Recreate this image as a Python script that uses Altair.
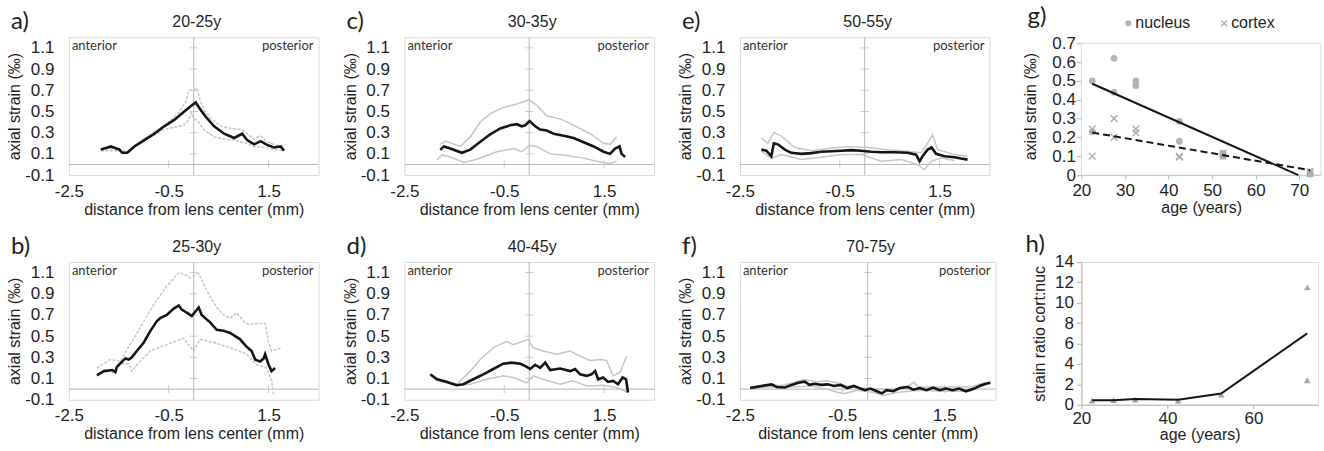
import altair as alt
import pandas as pd

FONT = "Liberation Sans"
LFONT = "Lato"
TXT = "#1e1e1e"
FRAME = "#d9d9d9"
AXG = "#b5b5b5"
GREY = "#c6c6c6"

# ---------------- profile data: (distance mm, axial strain permille) ----------------
A_MEAN = [(-1.86, 0.14), (-1.66, 0.17), (-1.49, 0.14), (-1.43, 0.11), (-1.33, 0.11), (-1.19, 0.17),
          (-0.99, 0.23), (-0.79, 0.29), (-0.59, 0.36), (-0.39, 0.42), (-0.19, 0.50), (-0.06, 0.55),
          (0.04, 0.585), (0.14, 0.515), (0.24, 0.45), (0.41, 0.36), (0.61, 0.29), (0.81, 0.25),
          (0.97, 0.29), (1.07, 0.23), (1.21, 0.19), (1.34, 0.22), (1.47, 0.185), (1.61, 0.16),
          (1.74, 0.17), (1.81, 0.13)]
A_UP = [(-1.86, 0.15), (-1.5, 0.15), (-1.33, 0.12), (-1.0, 0.24), (-0.7, 0.33), (-0.5, 0.40),
        (-0.3, 0.49), (-0.15, 0.60), (-0.1, 0.70), (0.0, 0.70), (0.06, 0.72), (0.12, 0.62),
        (0.2, 0.52), (0.35, 0.43), (0.55, 0.36), (0.75, 0.34), (0.95, 0.33), (1.05, 0.30),
        (1.2, 0.24), (1.34, 0.27), (1.45, 0.22), (1.6, 0.19), (1.75, 0.17), (1.8, 0.15)]
A_LOW = [(-1.86, 0.13), (-1.5, 0.13), (-1.33, 0.11), (-1.0, 0.22), (-0.7, 0.30), (-0.6, 0.33),
         (-0.3, 0.36), (-0.2, 0.37), (-0.1, 0.42), (-0.05, 0.49), (0.0, 0.44), (0.1, 0.40),
         (0.2, 0.33), (0.4, 0.26), (0.6, 0.24), (0.8, 0.23), (1.05, 0.20), (1.2, 0.17),
         (1.45, 0.16), (1.6, 0.14), (1.8, 0.13)]

B_MEAN = [(-1.94, 0.13), (-1.80, 0.17), (-1.63, 0.18), (-1.57, 0.16), (-1.54, 0.21), (-1.37, 0.29),
          (-1.30, 0.28), (-1.24, 0.30), (-1.14, 0.36), (-1.00, 0.44), (-0.87, 0.547), (-0.74, 0.64),
          (-0.67, 0.67), (-0.54, 0.70), (-0.40, 0.76), (-0.30, 0.79), (-0.24, 0.75), (-0.17, 0.73),
          (-0.10, 0.71), (-0.04, 0.69), (0.03, 0.73), (0.10, 0.77), (0.16, 0.70), (0.23, 0.67),
          (0.33, 0.63), (0.46, 0.56), (0.60, 0.55), (0.73, 0.53), (0.83, 0.50), (0.93, 0.47),
          (1.06, 0.40), (1.16, 0.36), (1.23, 0.28), (1.33, 0.26), (1.40, 0.29), (1.43, 0.33),
          (1.50, 0.23), (1.56, 0.17), (1.63, 0.20)]
B_UP = [(-1.94, 0.20), (-1.67, 0.28), (-1.47, 0.26), (-1.34, 0.37), (-1.07, 0.58), (-0.80, 0.80),
        (-0.54, 0.97), (-0.30, 1.10), (-0.17, 1.08), (-0.07, 1.05), (0.10, 1.09), (0.26, 0.93),
        (0.46, 0.77), (0.60, 0.70), (0.73, 0.67), (0.86, 0.72), (1.00, 0.64), (1.10, 0.61),
        (1.23, 0.62), (1.43, 0.62), (1.50, 0.44), (1.56, 0.36), (1.76, 0.39)]
B_LOW = [(-1.64, 0.15), (-1.45, 0.24), (-1.3, 0.24), (-1.24, 0.17), (-1.1, 0.25), (-0.87, 0.36),
         (-0.54, 0.42), (-0.2, 0.48), (-0.14, 0.44), (0.0, 0.36), (0.13, 0.47), (0.4, 0.44),
         (0.8, 0.38), (1.06, 0.33), (1.26, 0.23), (1.46, 0.20), (1.56, 0.08), (1.6, -0.05)]

C_MEAN = [(-1.78, 0.137), (-1.71, 0.17), (-1.58, 0.15), (-1.35, 0.11), (-1.18, 0.14), (-0.98, 0.215),
          (-0.78, 0.285), (-0.58, 0.34), (-0.38, 0.37), (-0.25, 0.38), (-0.15, 0.36), (-0.08, 0.37),
          (0.01, 0.41), (0.12, 0.36), (0.22, 0.33), (0.35, 0.32), (0.49, 0.29), (0.69, 0.27),
          (0.89, 0.25), (1.09, 0.21), (1.29, 0.17), (1.49, 0.12), (1.62, 0.10), (1.72, 0.15),
          (1.81, 0.17), (1.85, 0.10), (1.92, 0.07)]
C_UP = [(-1.78, 0.19), (-1.68, 0.22), (-1.38, 0.17), (-1.18, 0.26), (-0.98, 0.40), (-0.78, 0.48),
        (-0.51, 0.54), (-0.25, 0.57), (0.0, 0.61), (0.15, 0.56), (0.35, 0.46), (0.62, 0.43),
        (0.89, 0.37), (1.22, 0.29), (1.49, 0.20), (1.62, 0.19), (1.75, 0.26)]
C_LOW = [(-1.85, 0.04), (-1.75, 0.09), (-1.58, 0.07), (-1.31, 0.02), (-1.05, 0.05), (-0.65, 0.12),
         (-0.31, 0.15), (-0.15, 0.12), (0.0, 0.18), (0.15, 0.17), (0.42, 0.10), (0.69, 0.09),
         (1.09, 0.06), (1.35, 0.03), (1.62, 0.01), (1.75, 0.03)]

D_MEAN = [(-1.98, 0.14), (-1.85, 0.093), (-1.65, 0.068), (-1.45, 0.037), (-1.32, 0.046), (-1.12, 0.093),
          (-0.92, 0.14), (-0.72, 0.19), (-0.52, 0.24), (-0.35, 0.25), (-0.18, 0.24), (-0.05, 0.21),
          (0.02, 0.19), (0.12, 0.23), (0.22, 0.20), (0.32, 0.25), (0.42, 0.18), (0.62, 0.195),
          (0.82, 0.17), (0.92, 0.19), (1.02, 0.14), (1.15, 0.125), (1.25, 0.14), (1.32, 0.17),
          (1.38, 0.093), (1.48, 0.11), (1.58, 0.068), (1.68, 0.078), (1.78, 0.046), (1.87, 0.11),
          (1.94, 0.093), (1.98, -0.032)]
D_UP = [(-1.98, 0.125), (-1.45, 0.046), (-1.18, 0.17), (-0.98, 0.28), (-0.72, 0.39), (-0.45, 0.45),
        (-0.32, 0.42), (-0.02, 0.47), (0.08, 0.39), (0.28, 0.36), (0.55, 0.33), (0.82, 0.36),
        (1.02, 0.31), (1.22, 0.27), (1.42, 0.28), (1.55, 0.27), (1.68, 0.125), (1.82, 0.16),
        (1.95, 0.31)]
D_LOW = [(-1.98, 0.125), (-1.52, 0.037), (-1.18, 0.046), (-0.85, 0.093), (-0.52, 0.125), (-0.32, 0.11),
         (-0.05, 0.06), (0.08, 0.125), (0.28, 0.093), (0.62, 0.046), (0.88, 0.078), (1.15, 0.03),
         (1.48, 0.037), (1.75, 0.015), (1.98, -0.032)]

E_MEAN = [(-2.07, 0.14), (-1.97, 0.13), (-1.87, 0.078), (-1.82, 0.20), (-1.74, 0.19), (-1.60, 0.14),
          (-1.47, 0.11), (-1.27, 0.10), (-1.07, 0.107), (-0.87, 0.12), (-0.67, 0.125), (-0.47, 0.13),
          (-0.27, 0.135), (-0.07, 0.13), (0.13, 0.12), (0.33, 0.116), (0.60, 0.116), (0.86, 0.11),
          (1.03, 0.093), (1.10, 0.03), (1.16, 0.078), (1.26, 0.14), (1.34, 0.16), (1.43, 0.10),
          (1.60, 0.078), (1.80, 0.068), (1.93, 0.056), (2.06, 0.046)]
E_UP = [(-2.07, 0.25), (-1.94, 0.20), (-1.82, 0.30), (-1.67, 0.27), (-1.40, 0.16), (-1.07, 0.13),
        (-0.74, 0.15), (-0.34, 0.17), (0.06, 0.16), (0.46, 0.14), (0.86, 0.125), (1.13, 0.11),
        (1.26, 0.20), (1.36, 0.28), (1.46, 0.14), (1.80, 0.093), (2.06, 0.078)]
E_LOW = [(-2.07, 0.125), (-1.87, 0.06), (-1.67, 0.093), (-1.27, 0.046), (-0.87, 0.068), (-0.47, 0.093),
         (-0.07, 0.093), (0.33, 0.03), (0.73, 0.046), (1.06, 0.0), (1.20, -0.05), (1.33, 0.03),
         (1.53, 0.06), (1.80, 0.037)]

F_MEAN = [(-2.30, 0.01), (-2.07, 0.03), (-1.88, 0.045), (-1.78, 0.02), (-1.62, 0.015), (-1.49, 0.04),
          (-1.36, 0.06), (-1.23, 0.07), (-1.14, 0.04), (-1.04, 0.05), (-0.91, 0.04), (-0.78, 0.045),
          (-0.66, 0.03), (-0.53, 0.04), (-0.40, 0.01), (-0.27, 0.03), (-0.14, 0.005), (-0.05, -0.01),
          (0.05, 0.005), (0.18, -0.02), (0.28, -0.04), (0.37, -0.01), (0.50, -0.02), (0.63, 0.01),
          (0.79, 0.02), (0.89, -0.005), (1.02, 0.01), (1.15, -0.01), (1.28, 0.015), (1.41, -0.01),
          (1.53, 0.005), (1.66, -0.01), (1.79, 0.005), (1.92, -0.02), (2.08, 0.005), (2.21, 0.035),
          (2.31, 0.05), (2.40, 0.06)]
F_UP = [(-2.30, 0.02), (-2.0, 0.04), (-1.7, 0.035), (-1.45, 0.06), (-1.25, 0.09), (-1.0, 0.07),
        (-0.8, 0.08), (-0.6, 0.06), (-0.4, 0.03), (-0.1, 0.01), (0.2, 0.0), (0.5, 0.0),
        (0.8, 0.03), (0.9, 0.065), (1.0, 0.02), (1.5, 0.02), (2.0, 0.02), (2.3, 0.06)]
F_LOW = [(-2.30, 0.0), (-2.0, 0.02), (-1.5, 0.02), (-1.1, 0.03), (-0.8, 0.0), (-0.6, -0.03),
         (-0.45, -0.04), (-0.2, -0.01), (0.1, -0.03), (0.3, -0.06), (0.6, -0.03), (1.0, -0.01),
         (1.5, -0.02), (2.0, -0.02), (2.3, 0.04)]

# ---------------- age data ----------------
G_AGE = [22.5, 22.5, 27.5, 27.5, 32.5, 32.5, 42.5, 42.5, 52.5, 52.5, 72.5, 72.5]
G_NUCLEUS = [0.50, 0.23, 0.62, 0.44, 0.50, 0.475, 0.285, 0.18, 0.115, 0.10, 0.01, 0.005]
G_CORTEX = [0.245, 0.10, 0.30, 0.20, 0.245, 0.225, 0.10, 0.095, 0.115, 0.10, 0.02, 0.01]
G_NUC_FIT_AGE = [22.5, 69.8]
G_NUC_FIT = [0.485, 0.0]
G_CORT_FIT_AGE = [22.5, 72.5]
G_CORT_FIT = [0.226, 0.026]

H_AGE = [22.5, 27.5, 32.5, 42.5, 52.5, 72.5, 72.5]
H_RATIO = [0.4, 0.45, 0.5, 0.4, 1.0, 11.5, 2.4]
H_LINE_AGE = [22.5, 27.5, 32.5, 42.5, 52.5, 72.5]
H_LINE = [0.45, 0.45, 0.55, 0.5, 1.1, 7.0]

PROFILE_Y_TICKS = [-0.1, 0.1, 0.3, 0.5, 0.7, 0.9, 1.1]
PROFILE_X_TICKS = [-2.5, -0.5, 1.5]
AXIS_MARK_Y = [0.1, 0.3, 0.5, 0.7, 0.9, 1.1]
AXIS_MARK_X = [-0.5, 1.5]

NUM_EXPR = "datum.value < 0 ? '-' + format(-datum.value, '.1f') : format(datum.value, '.1f')"


def pts_df(pts, name):
    return pd.DataFrame({"x": [p[0] for p in pts], "y": [p[1] for p in pts],
                         "s": name, "o": list(range(len(pts)))})


def txt(text, x, y, size, font, align="left", color=TXT):
    return alt.Chart(pd.DataFrame({"t": [text]})).mark_text(
        align=align, baseline="middle", fontSize=size, font=font, color=color
    ).encode(x=alt.value(x), y=alt.value(y), text="t:N")


def profile(letter, title, mean, up, low, width=250, dotted=False):
    xs = alt.Scale(domain=[-2.5, 2.5], nice=False, zero=False)
    ys = alt.Scale(domain=[-0.1, 1.2], nice=False, zero=False)
    xaxis = alt.Axis(values=PROFILE_X_TICKS, labelExpr=NUM_EXPR, ticks=False, tickSize=0,
                     domain=False, grid=False, labelPadding=8, labelFontSize=17, labelFont=FONT,
                     labelColor=TXT, labelFlush=False, labelOverlap=False,
                     title="distance from lens center (mm)", titleFont=FONT, titleFontSize=16,
                     titleFontWeight="normal", titleColor=TXT, titlePadding=2)
    yaxis = alt.Axis(values=PROFILE_Y_TICKS, labelExpr=NUM_EXPR, ticks=False, tickSize=0,
                     domain=False, grid=False, labelPadding=15, labelFontSize=17, labelFont=FONT,
                     labelColor=TXT, labelFlush=False, labelOverlap=False,
                     title="axial strain (‰)", titleFont=FONT, titleFontSize=16,
                     titleFontWeight="normal", titleColor=TXT, titlePadding=2)
    X = alt.X("x:Q", scale=xs, axis=xaxis)
    Y = alt.Y("y:Q", scale=ys, axis=yaxis)

    vline = alt.Chart(pd.DataFrame({"x": [0.0]})).mark_rule(color=AXG, strokeWidth=1).encode(x=X)
    hline = alt.Chart(pd.DataFrame({"y": [0.0]})).mark_rule(color=AXG, strokeWidth=1).encode(y=Y)
    yt = alt.Chart(pd.DataFrame({"x": [0.0] * len(AXIS_MARK_Y), "y": AXIS_MARK_Y})).mark_tick(
        orient="horizontal", size=8, thickness=1, color=AXG).encode(x=X, y=Y)
    xt = alt.Chart(pd.DataFrame({"x": AXIS_MARK_X, "y": [0.0] * len(AXIS_MARK_X)})).mark_tick(
        orient="vertical", size=8, thickness=1, color=AXG).encode(x=X, y=Y)
    line_kw = dict(color=GREY, strokeWidth=1.5)
    if dotted:
        line_kw["strokeDash"] = [3, 1.5]
    grey = alt.Chart(pd.concat([pts_df(up, "upper"), pts_df(low, "lower")])).mark_line(
        **line_kw).encode(x=X, y=Y, detail="s:N", order="o:Q")
    black = alt.Chart(pts_df(mean, "mean")).mark_line(
        color="#151515", strokeWidth=2.6).encode(x=X, y=Y, order="o:Q")
    layers = [vline, hline, yt, xt, grey, black,
              txt("anterior", 3, 9, 13, LFONT, color="#333333"),
              txt("posterior", width - 5, 9, 13, LFONT, align="right", color="#333333"),
              txt(letter, -58, -15, 24, LFONT),
              txt(title, width / 2 + 3, -15, 16, FONT, align="center")]
    return alt.layer(*layers).properties(width=width, height=138)


def panel_g():
    xs = alt.Scale(domain=[20, 75], nice=False, zero=False)
    ys = alt.Scale(domain=[0, 0.732], nice=False, zero=False)
    xaxis = alt.Axis(values=[20, 30, 40, 50, 60, 70], format="d", ticks=True, tickSize=4,
                     tickColor=AXG, domain=True, domainColor=AXG, grid=False, labelPadding=3,
                     labelFontSize=17, labelFont=FONT, labelColor=TXT, labelFlush=False,
                     title="age (years)", titleFont=FONT, titleFontSize=16,
                     titleFontWeight="normal", titleColor=TXT, titlePadding=1)
    yaxis = alt.Axis(values=[0, 0.1, 0.2, 0.3, 0.4, 0.5, 0.6, 0.7],
                     labelExpr="datum.value == 0 ? '0' : format(datum.value, '.1f')",
                     ticks=True, tickSize=5, tickColor=AXG, domain=False, grid=False,
                     labelPadding=1, labelFontSize=17, labelFont=FONT, labelColor=TXT,
                     labelFlush=False, title="axial strain (‰)", titleFont=FONT,
                     titleFontSize=16, titleFontWeight="normal", titleColor=TXT, titlePadding=13)
    X = alt.X("x:Q", scale=xs, axis=xaxis)
    Y = alt.Y("y:Q", scale=ys, axis=yaxis)
    frame = alt.Chart(pd.DataFrame({"x": [20], "x2": [75], "y": [0.0], "y2": [0.7]})).mark_rect(
        fillOpacity=0, stroke=FRAME, strokeWidth=1).encode(x=X, x2="x2:Q", y=Y, y2="y2:Q")
    nuc = alt.Chart(pd.DataFrame({"x": G_AGE, "y": G_NUCLEUS})).mark_point(
        shape="circle", filled=True, size=45, color="#b3b3b3", opacity=1).encode(x=X, y=Y)
    cross = "M-1,-1L1,1M1,-1L-1,1"
    cort = alt.Chart(pd.DataFrame({"x": G_AGE, "y": G_CORTEX})).mark_point(
        shape=cross, filled=False, size=45, color="#a8a8a8", strokeWidth=1.3, opacity=1).encode(x=X, y=Y)
    fit_n = alt.Chart(pd.DataFrame({"x": G_NUC_FIT_AGE, "y": G_NUC_FIT})).mark_line(
        color="#151515", strokeWidth=2).encode(x=X, y=Y)
    fit_c = alt.Chart(pd.DataFrame({"x": G_CORT_FIT_AGE, "y": G_CORT_FIT})).mark_line(
        color="#151515", strokeWidth=2, strokeDash=[7, 4]).encode(x=X, y=Y)
    leg_dot = alt.Chart(pd.DataFrame({"t": ["nucleus"]})).mark_point(
        shape="circle", filled=True, size=35, color="#b3b3b3", opacity=1).encode(
        x=alt.value(47), y=alt.value(-14))
    leg_x = alt.Chart(pd.DataFrame({"t": ["cortex"]})).mark_point(
        shape=cross, filled=False, size=35, color="#a8a8a8", strokeWidth=1.2, opacity=1).encode(
        x=alt.value(143), y=alt.value(-14))
    layers = [frame, nuc, cort, fit_n, fit_c, leg_dot, leg_x,
              txt("nucleus", 54, -14, 16, FONT), txt("cortex", 150, -14, 16, FONT),
              txt("g)", -54, -20, 24, LFONT)]
    return alt.layer(*layers).properties(width=240, height=138,
                                         view=alt.ViewBackground(stroke=None))


def panel_h():
    xs = alt.Scale(domain=[20, 75], nice=False, zero=False)
    ys = alt.Scale(domain=[0, 14], nice=False, zero=False)
    xaxis = alt.Axis(values=[20, 40, 60], format="d", ticks=True, tickSize=4, tickColor=AXG,
                     domain=True, domainColor=AXG, grid=False, labelPadding=2, labelFontSize=17,
                     labelFont=FONT, labelColor=TXT, labelFlush=False, title="age (years)",
                     titleFont=FONT, titleFontSize=16, titleFontWeight="normal", titleColor=TXT,
                     titlePadding=0)
    yaxis = alt.Axis(values=list(range(0, 15, 2)), format="d", ticks=True, tickSize=5,
                     tickColor=AXG, domain=True, domainColor=AXG, grid=False, labelPadding=3,
                     labelFontSize=17, labelFont=FONT, labelColor=TXT, labelFlush=False,
                     title="strain ratio cort:nuc", titleFont=FONT, titleFontSize=16,
                     titleFontWeight="normal", titleColor=TXT, titlePadding=7)
    X = alt.X("x:Q", scale=xs, axis=xaxis)
    Y = alt.Y("y:Q", scale=ys, axis=yaxis)
    tri = alt.Chart(pd.DataFrame({"x": H_AGE, "y": H_RATIO})).mark_point(
        shape="triangle-up", filled=True, size=45, color="#a6a6a6", opacity=1).encode(x=X, y=Y)
    line = alt.Chart(pd.DataFrame({"x": H_LINE_AGE, "y": H_LINE})).mark_line(
        color="#151515", strokeWidth=2).encode(x=X, y=Y)
    return alt.layer(tri, line, txt("h)", -56, -17, 24, LFONT)).properties(width=237, height=143)


pa = profile("a)", "20-25y", A_MEAN, A_UP, A_LOW, dotted=True)
pb = profile("b)", "25-30y", B_MEAN, B_UP, B_LOW, dotted=True)
pc = profile("c)", "30-35y", C_MEAN, C_UP, C_LOW)
pd_ = profile("d)", "40-45y", D_MEAN, D_UP, D_LOW)
pe = profile("e)", "50-55y", E_MEAN, E_UP, E_LOW)
pf = profile("f)", "70-75y", F_MEAN, F_UP, F_LOW, width=256)
pg = panel_g()
ph = panel_h()

chart = alt.concat(pa, pc, pe, pg, pb, pd_, pf, ph, columns=4, bounds="flush",
                   spacing={"row": 87, "column": 86}).configure_view(
    stroke=FRAME, strokeWidth=1).properties(
    padding={"left": 6, "top": 5, "right": 2, "bottom": 2}, background="white")

chart.save("out.html", embed_options={"renderer": "svg", "actions": False})
